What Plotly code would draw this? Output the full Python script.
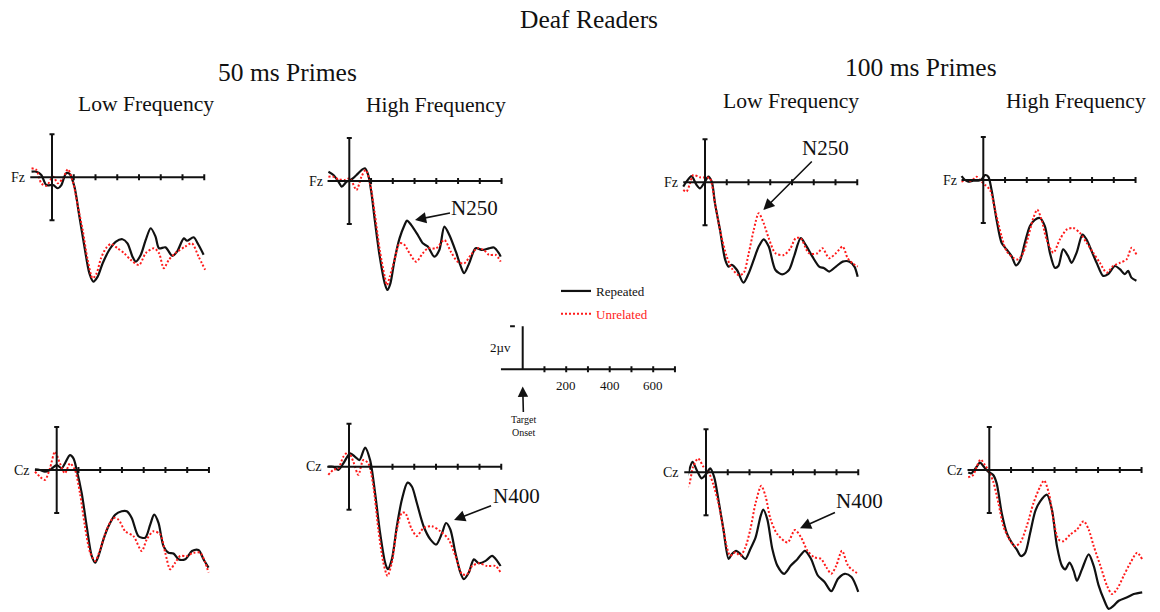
import plotly.graph_objects as go

W, H = 1160, 612
SX = 0.2175   # px per ms
SY = 21.5     # px per microvolt (negative plotted up)
FONT = "Liberation Serif"

TICKS_MS = [100, 200, 300, 400, 500, 600, 700]
AXIS_START_MS = -100
BAR_UV = 2
SCALE_LABELS = [200, 400, 600]

# ---------------- data (time in ms, amplitude in microvolts) ----------------
# 50 ms primes, Low Frequency, Fz
FZ50_LOW_T_REP = [-94, -72, -49, -26, 5, 27, 43, 65, 81, 103, 126, 149, 172, 190, 210, 233, 263, 294, 324, 347,
                  370, 385, 408, 431, 454, 476, 492, 522, 553, 575, 606, 621, 651, 674, 697]
FZ50_LOW_V_REP = [-0.26, -0.26, -0.11, 0.36, 0.36, 0.51, 0.36, -0.19, -0.16, 0.43, 1.83, 3.22, 4.47, 4.85, 4.62,
                  4.0, 3.38, 2.99, 2.88, 3.07, 3.69, 3.92, 3.61, 2.91, 2.37, 2.76, 3.3, 3.26, 3.66, 3.46, 2.84,
                  2.95, 2.79, 3.15, 3.6]
FZ50_LOW_T_UNR = [-94, -72, -49, -26, 5, 27, 50, 73, 96, 119, 141, 164, 187, 205, 225, 248, 271, 301, 332, 362,
                  400, 431, 469, 492, 514, 537, 567, 613, 643, 674, 704]
FZ50_LOW_V_UNR = [-0.42, -0.34, 0.28, 0.4, -0.03, 0.28, 0.05, -0.37, 0.2, 1.36, 2.45, 3.84, 4.7, 4.47, 3.77, 3.3,
                  3.1, 3.3, 3.53, 3.84, 4.08, 3.53, 3.3, 3.53, 4.23, 3.84, 3.53, 3.22, 3.07, 3.69, 4.3]

# 50 ms primes, High Frequency, Fz
FZ50_HIGH_T_REP = [-96, -73, -50, -35, -12, 11, 33, 56, 72, 87, 102, 117, 140, 163, 175, 189, 208, 231, 254, 265,
                   285, 315, 338, 361, 391, 414, 437, 460, 490, 513, 528, 551, 581, 612, 642, 665, 688, 696]
FZ50_HIGH_V_REP = [-0.43, -0.28, 0.03, 0.26, 0.03, -0.08, -0.28, -0.51, -0.59, -0.28, 0.57, 1.81, 3.52, 4.76,
                   5.07, 4.76, 3.67, 2.67, 2.05, 1.84, 2.05, 2.51, 2.9, 3.05, 3.52, 3.21, 2.12, 2.51, 3.29, 3.98,
                   4.29, 3.83, 3.13, 3.21, 3.13, 3.09, 3.36, 3.52]
FZ50_HIGH_T_UNR = [-96, -73, -50, -20, 3, 33, 56, 75, 94, 117, 140, 163, 173, 186, 208, 231, 250, 277, 307, 338,
                   361, 399, 437, 467, 498, 528, 559, 589, 619, 642, 673, 696]
FZ50_HIGH_V_UNR = [-0.2, -0.2, -0.08, -0.05, -0.12, 0.42, -0.2, -0.51, 0.03, 1.5, 3.21, 4.45, 4.84, 4.45, 3.67,
                   2.9, 2.93, 3.36, 3.75, 3.36, 3.13, 3.13, 2.74, 3.29, 3.75, 3.83, 3.44, 3.13, 3.21, 3.44, 3.44,
                   3.75]

# 100 ms primes, Low Frequency, Fz
FZ100_LOW_T_REP = [-100, -85, -62, -39, -23, 0, 15, 31, 46, 69, 93, 108, 123, 147, 177, 201, 224, 247, 270, 293,
                   324, 355, 386, 409, 440, 463, 494, 525, 548, 571, 602, 633, 664, 687, 702]
FZ100_LOW_V_REP = [0.2, -0.03, -0.29, 0.12, 0.28, -0.03, -0.26, -0.03, 0.98, 2.22, 3.61, 3.92, 3.84, 4.08, 4.67,
                   4.23, 3.61, 2.99, 2.65, 2.99, 4.08, 4.28, 4.08, 3.46, 2.6, 2.91, 3.46, 3.92, 4.0, 4.15, 3.92,
                   3.69, 3.69, 3.92, 4.39]
FZ100_LOW_T_UNR = [-100, -85, -69, -54, -23, 8, 23, 46, 69, 100, 123, 154, 177, 201, 224, 247, 270, 293, 324, 363,
                   393, 417, 440, 478, 517, 540, 571, 602, 633, 656, 679, 702]
FZ100_LOW_V_UNR = [0.36, 0.43, 0.05, -0.34, -0.23, -0.23, -0.19, 0.98, 2.22, 3.46, 4.0, 4.31, 4.23, 3.3, 2.22,
                   1.44, 1.91, 2.6, 3.3, 3.38, 3.07, 2.6, 2.6, 3.3, 3.3, 3.07, 3.53, 3.3, 2.99, 3.53, 3.77, 3.92]

# 100 ms primes, High Frequency, Fz
FZ100_HIGH_T_REP = [-100, -84, -69, -46, -23, -8, 8, 23, 38, 61, 84, 107, 130, 150, 168, 191, 214, 237, 260, 283,
                    306, 329, 345, 367, 390, 406, 429, 456, 475, 498, 521, 551, 574, 605, 628, 651, 666, 681, 704]
FZ100_HIGH_V_REP = [-0.18, 0.0, 0.08, 0.03, 0.03, -0.03, -0.23, -0.15, 0.46, 1.85, 2.92, 3.23, 3.54, 3.97, 3.77,
                    2.92, 2.15, 1.85, 1.77, 2.15, 3.38, 4.08, 4.0, 3.23, 3.54, 3.85, 3.38, 2.54, 2.77, 3.31, 3.85,
                    4.46, 4.38, 4.0, 4.15, 4.38, 4.23, 4.54, 4.69]
FZ100_HIGH_T_UNR = [-100, -77, -54, -31, -15, 8, 31, 54, 84, 107, 138, 161, 184, 207, 230, 248, 268, 291, 322, 352,
                    383, 413, 444, 475, 505, 536, 567, 597, 628, 659, 682, 704]
FZ100_HIGH_V_UNR = [0.08, 0.0, 0.03, -0.15, 0.0, 0.23, 0.46, 1.38, 2.62, 3.31, 3.62, 3.69, 3.38, 2.62, 1.77, 1.38,
                    1.85, 2.77, 3.38, 2.77, 2.31, 2.23, 2.46, 2.92, 3.38, 3.85, 4.31, 4.0, 3.85, 3.69, 3.15, 3.46]

# 50 ms primes, Low Frequency, Cz
CZ50_LOW_T_REP = [-100, -77, -54, -31, 0, 23, 38, 61, 77, 92, 115, 138, 161, 177, 192, 215, 238, 269, 299, 322,
                  345, 376, 407, 430, 448, 468, 491, 514, 537, 560, 591, 622, 652, 675, 698]
CZ50_LOW_V_REP = [-0.03, 0.0, 0.08, 0.0, -0.23, -0.08, -0.31, -0.69, -0.54, 0.0, 1.08, 2.62, 4.0, 4.31, 4.0, 3.23,
                  2.62, 2.08, 1.92, 1.92, 2.23, 3.08, 3.15, 2.54, 2.08, 2.46, 3.54, 3.85, 3.88, 4.15, 4.15, 3.77,
                  3.72, 4.15, 4.54]
CZ50_LOW_T_UNR = [-100, -77, -54, -31, -8, 15, 38, 61, 84, 107, 130, 154, 177, 200, 230, 261, 284, 315, 353, 391,
                  414, 445, 476, 499, 522, 545, 568, 599, 629, 660, 683, 698]
CZ50_LOW_V_UNR = [0.08, 0.31, 0.46, -0.08, -0.85, -0.31, 0.15, -0.31, 0.0, 1.08, 2.62, 3.85, 4.23, 3.69, 2.77,
                  2.23, 2.31, 2.85, 3.08, 3.77, 3.23, 2.85, 3.0, 3.85, 4.62, 4.31, 4.0, 4.0, 3.85, 3.85, 4.31, 4.77]

# 50 ms primes, High Frequency, Cz
CZ50_HIGH_T_REP = [-95, -72, -49, -26, 5, 28, 48, 74, 97, 120, 143, 166, 178, 197, 220, 243, 269, 289, 312, 343,
                   374, 401, 428, 446, 466, 489, 512, 528, 551, 574, 597, 628, 658, 681, 697]
CZ50_HIGH_V_REP = [0.0, 0.0, 0.15, -0.15, -0.62, -0.46, -0.31, -0.89, -0.31, 1.23, 3.08, 4.46, 4.77, 4.31, 2.77,
                   1.54, 0.74, 0.92, 1.69, 2.77, 3.38, 3.62, 3.08, 2.62, 2.92, 4.0, 4.92, 5.23, 4.92, 4.31, 4.49,
                   4.38, 4.15, 4.38, 4.62]
CZ50_HIGH_T_UNR = [-95, -72, -49, -26, -3, 20, 43, 66, 89, 112, 135, 158, 177, 197, 220, 243, 258, 289, 312, 343,
                   381, 420, 458, 489, 520, 543, 566, 597, 635, 674, 697]
CZ50_HIGH_V_UNR = [0.38, 0.15, 0.08, -0.46, -0.69, -0.23, 0.38, -0.31, -0.15, 0.92, 2.92, 4.46, 5.08, 4.46, 2.92,
                   2.15, 2.15, 2.92, 3.23, 2.85, 2.77, 3.0, 3.38, 4.15, 5.0, 5.0, 4.62, 4.49, 4.62, 4.62, 4.92]

# 100 ms primes, Low Frequency, Cz
CZ100_LOW_T_REP = [-98, -82, -62, -43, -20, 3, 19, 37, 57, 80, 104, 119, 139, 158, 181, 204, 228, 251, 263, 282,
                   305, 328, 359, 390, 421, 455, 483, 514, 545, 576, 607, 638, 669, 700]
CZ100_LOW_V_REP = [0.43, 0.05, -0.49, -0.11, 0.28, 0.05, -0.18, 0.2, 1.27, 2.65, 4.03, 3.8, 3.65, 3.8, 4.03, 3.57,
                   3.03, 2.04, 1.73, 2.19, 3.57, 4.34, 4.72, 4.34, 4.03, 3.65, 4.03, 4.8, 5.1, 5.53, 4.95, 4.72,
                   4.87, 5.56]
CZ100_LOW_T_UNR = [-105, -82, -59, -36, -12, 11, 34, 57, 80, 96, 111, 135, 158, 181, 204, 228, 254, 274, 297, 328,
                   375, 409, 437, 467, 498, 529, 553, 576, 599, 625, 653, 677, 700]
CZ100_LOW_V_UNR = [0.74, 0.66, -0.26, -0.64, -0.26, -0.03, 0.58, 1.43, 2.65, 3.49, 3.88, 3.72, 3.88, 3.49, 2.65,
                   1.43, 0.63, 1.12, 2.19, 2.88, 3.26, 2.68, 3.03, 3.65, 3.95, 4.03, 4.41, 4.72, 4.34, 3.65, 4.34,
                   4.57, 4.72]

# 100 ms primes, High Frequency, Cz
CZ100_HIGH_T_REP = [-97, -82, -58, -43, -25, -5, 18, 34, 57, 80, 103, 126, 145, 165, 188, 211, 234, 265, 288, 311,
                    334, 349, 369, 388, 403, 426, 457, 480, 503, 526, 549, 572, 595, 634, 664, 703]
CZ100_HIGH_V_REP = [0.12, 0.15, -0.15, -0.34, -0.15, 0.08, 0.23, 0.62, 2.0, 2.92, 3.38, 3.69, 4.0, 3.85, 2.92,
                    1.92, 1.46, 1.15, 1.85, 3.54, 4.46, 4.62, 4.31, 4.69, 5.15, 4.62, 3.92, 4.46, 5.38, 6.0, 6.46,
                    6.31, 6.08, 5.92, 5.77, 5.69]
CZ100_HIGH_T_UNR = [-97, -74, -58, -40, -20, -5, 18, 42, 65, 88, 118, 142, 172, 203, 234, 252, 274, 295, 318, 341,
                    372, 403, 434, 457, 480, 511, 541, 564, 587, 618, 649, 680, 703]
CZ100_HIGH_V_UNR = [0.34, 0.23, -0.15, -0.49, -0.23, 0.0, 0.54, 1.54, 2.62, 3.15, 3.54, 3.38, 2.62, 1.54, 0.77,
                    0.49, 1.08, 2.31, 3.23, 3.31, 3.0, 2.77, 2.38, 2.77, 3.54, 4.46, 5.38, 5.77, 5.54, 4.92, 4.31,
                    3.85, 4.15]

# component labels
COMPONENT_PANEL = [2, 3, 6, 7]
COMPONENT_TEXT = ["N250", "N250", "N400", "N400"]
COMPONENT_T = [302, 268, 483, 432]
COMPONENT_V = [1.81, 1.29, 2.48, 2.6]
COMPONENT_DX = [60, 62, 62, 60]
COMPONENT_DY = [-12, -62, -24, -27]

# ---------------- layout of panels (pixel origin of each waveform axis) ----------------
PANELS = [
    dict(origin=(52, 177.3), site="Fz", rep=(FZ50_LOW_T_REP, FZ50_LOW_V_REP), unr=(FZ50_LOW_T_UNR, FZ50_LOW_V_UNR)),
    dict(origin=(349.3, 181), site="Fz", rep=(FZ50_HIGH_T_REP, FZ50_HIGH_V_REP), unr=(FZ50_HIGH_T_UNR, FZ50_HIGH_V_UNR)),
    dict(origin=(705, 182.3), site="Fz", rep=(FZ100_LOW_T_REP, FZ100_LOW_V_REP), unr=(FZ100_LOW_T_UNR, FZ100_LOW_V_UNR)),
    dict(origin=(983.3, 180), site="Fz", rep=(FZ100_HIGH_T_REP, FZ100_HIGH_V_REP), unr=(FZ100_HIGH_T_UNR, FZ100_HIGH_V_UNR)),
    dict(origin=(56.7, 470), site="Cz", rep=(CZ50_LOW_T_REP, CZ50_LOW_V_REP), unr=(CZ50_LOW_T_UNR, CZ50_LOW_V_UNR)),
    dict(origin=(349, 466.7), site="Cz", rep=(CZ50_HIGH_T_REP, CZ50_HIGH_V_REP), unr=(CZ50_HIGH_T_UNR, CZ50_HIGH_V_UNR)),
    dict(origin=(706, 472.3), site="Cz", rep=(CZ100_LOW_T_REP, CZ100_LOW_V_REP), unr=(CZ100_LOW_T_UNR, CZ100_LOW_V_UNR)),
    dict(origin=(989.3, 470), site="Cz", rep=(CZ100_HIGH_T_REP, CZ100_HIGH_V_REP), unr=(CZ100_HIGH_T_UNR, CZ100_HIGH_V_UNR)),
    dict(origin=(522.7, 369.3), site=None, rep=None, unr=None),   # calibration panel
]

BLACK = "#111111"
RED = "#ff1a1a"

fig = go.Figure()
layout = dict(width=W, height=H, margin=dict(l=0, r=0, t=0, b=0),
              paper_bgcolor="white", plot_bgcolor="white", showlegend=True)
shapes = []
annotations = []

cap_ms = 2.5 / SX
tick_uv = 3.0 / SY

for i, p in enumerate(PANELS, 1):
    ox, oy = p["origin"]
    left, right = ox - 32, ox + 166
    top, bottom = oy - 52, min(oy + 148, H)
    xr = [(left - ox) / SX, (right - ox) / SX]
    yr = [(bottom - oy) / SY, (top - oy) / SY]   # reversed: negative up
    sfx = "" if i == 1 else str(i)
    layout["xaxis" + sfx] = dict(domain=[left / W, right / W], range=xr, visible=False,
                                 fixedrange=True, anchor="y" + sfx)
    layout["yaxis" + sfx] = dict(domain=[1 - bottom / H, 1 - top / H], range=yr, visible=False,
                                 fixedrange=True, anchor="x" + sfx)
    xref, yref = "x" + sfx, "y" + sfx
    ln = dict(color=BLACK, width=2)
    # horizontal time axis
    shapes.append(dict(type="line", xref=xref, yref=yref, x0=AXIS_START_MS, x1=TICKS_MS[-1], y0=0, y1=0, line=ln))
    for t in TICKS_MS:
        shapes.append(dict(type="line", xref=xref, yref=yref, x0=t, x1=t, y0=-tick_uv, y1=tick_uv, line=ln))
    if p["rep"] is not None:
        # vertical amplitude bar with caps
        shapes.append(dict(type="line", xref=xref, yref=yref, x0=0, x1=0, y0=-BAR_UV, y1=BAR_UV, line=ln))
        for yv in (-BAR_UV, BAR_UV):
            shapes.append(dict(type="line", xref=xref, yref=yref, x0=-cap_ms, x1=cap_ms, y0=yv, y1=yv, line=ln))
        fig.add_trace(go.Scatter(x=p["rep"][0], y=p["rep"][1], xaxis=xref, yaxis=yref, mode="lines",
                                 name="Repeated", legendgroup="rep", showlegend=(i == 1), hoverinfo="skip",
                                 line=dict(color=BLACK, width=2.2, shape="spline", smoothing=0.8)))
        fig.add_trace(go.Scatter(x=p["unr"][0], y=p["unr"][1], xaxis=xref, yaxis=yref, mode="lines",
                                 name='<span style="color:#ff1a1a">Unrelated</span>', legendgroup="unr",
                                 showlegend=(i == 1), hoverinfo="skip",
                                 line=dict(color=RED, width=2, dash="2px,2px", shape="spline", smoothing=0.8)))
        annotations.append(dict(xref=xref, yref=yref, x=AXIS_START_MS, y=0, text=p["site"], showarrow=False,
                                xanchor="right", yanchor="middle", xshift=-3,
                                font=dict(family=FONT, size=14, color=BLACK)))
    else:
        # calibration: 2 uV bar (negative up) and minus sign
        shapes.append(dict(type="line", xref=xref, yref=yref, x0=0, x1=0, y0=0, y1=-BAR_UV, line=ln))
        shapes.append(dict(type="line", xref=xref, yref=yref, x0=-58, x1=-36, y0=-BAR_UV, y1=-BAR_UV, line=ln))
        annotations.append(dict(xref=xref, yref=yref, x=-104, y=-BAR_UV / 2, text="2µv", showarrow=False,
                                xanchor="center", yanchor="middle",
                                font=dict(family=FONT, size=13, color=BLACK)))
        for t in SCALE_LABELS:
            annotations.append(dict(xref=xref, yref=yref, x=t, y=0, text=str(t), showarrow=False,
                                    xanchor="center", yanchor="top", yshift=-7,
                                    font=dict(family=FONT, size=13, color=BLACK)))
        annotations.append(dict(xref=xref, yref=yref, x=0, y=0.8, text="Target<br>Onset", showarrow=True,
                                ax=1, ay=39, arrowhead=2, arrowsize=1.3, arrowwidth=1.6, arrowcolor=BLACK,
                                standoff=0, font=dict(family=FONT, size=10, color=BLACK)))

for pi, txt, t, v, dx, dy in zip(COMPONENT_PANEL, COMPONENT_TEXT, COMPONENT_T, COMPONENT_V, COMPONENT_DX, COMPONENT_DY):
    sfx = "" if pi == 1 else str(pi)
    annotations.append(dict(xref="x" + sfx, yref="y" + sfx, x=t, y=v, text=txt, showarrow=True,
                            ax=dx, ay=dy, arrowhead=2, arrowsize=1.4, arrowwidth=1.6, arrowcolor=BLACK,
                            standoff=0, font=dict(family=FONT, size=21, color=BLACK)))

# titles
TITLE_TEXT = ["Deaf Readers", "50 ms Primes", "100 ms Primes",
              "Low Frequency", "High Frequency", "Low Frequency", "High Frequency"]
TITLE_X = [589, 287, 921, 146, 436, 791, 1076]
TITLE_Y = [20, 72, 67, 104, 105, 101, 101]
TITLE_SIZE = [25.5, 25.5, 25.5, 21.6, 21.6, 21.6, 21.6]
for txt, x, y, s in zip(TITLE_TEXT, TITLE_X, TITLE_Y, TITLE_SIZE):
    annotations.append(dict(xref="paper", yref="paper", x=x / W, y=1 - y / H, text=txt, showarrow=False,
                            xanchor="center", yanchor="middle", font=dict(family=FONT, size=s, color=BLACK)))

layout["shapes"] = shapes
layout["annotations"] = annotations
layout["legend"] = dict(x=556 / W, y=1 - 276 / H, xanchor="left", yanchor="top",
                        font=dict(family=FONT, size=13, color=BLACK), bgcolor="rgba(0,0,0,0)",
                        traceorder="grouped", tracegroupgap=3, itemwidth=30)
fig.update_layout(**layout)
fig.write_html("out.html")
